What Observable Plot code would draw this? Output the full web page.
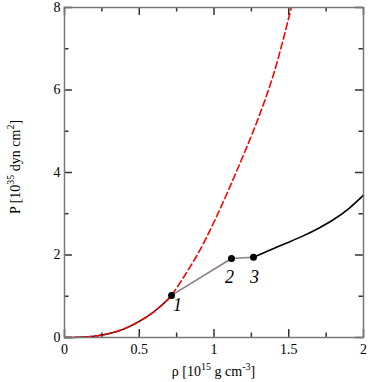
<!DOCTYPE html>
<html>
<head>
<meta charset="utf-8">
<script src="https://cdn.jsdelivr.net/npm/d3@7"></script>
<script src="https://cdn.jsdelivr.net/npm/@observablehq/plot@0.6"></script>
<style>
  html, body { margin: 0; padding: 0; background: #fff; }
  #chart svg { background: #fff; }
  #chart svg text { font-family: 'Liberation Serif', 'Times New Roman', serif; fill: #000; }
</style>
</head>
<body>
<div id="chart"></div>
<script>
// Lower (hadronic) branch, shared by the black and red curves
const rhoLow = [0, 0.1, 0.2, 0.3, 0.4, 0.5, 0.6, 0.7, 0.716];
const pLow   = [0, 0.005, 0.03, 0.095, 0.21, 0.39, 0.63, 0.95, 1.02];
// Red dashed continuation
const rhoRed = [0.716, 0.8, 0.9, 1.0, 1.1, 1.2, 1.3, 1.4, 1.5, 1.55];
const pRed   = [1.02, 1.48, 2.08, 2.8, 3.6, 4.45, 5.35, 6.4, 7.75, 8.5];
// Mixed phase segment (points 1, 2, 3)
const rhoMix = [0.716, 1.117, 1.264];
const pMix   = [1.02, 1.915, 1.945];
const pointLabels = ["1", "2", "3"];
// Black high-density branch
const rhoHigh = [1.264, 1.4, 1.5, 1.6, 1.7, 1.8, 1.9, 2.0];
const pHigh   = [1.945, 2.16, 2.31, 2.47, 2.65, 2.86, 3.12, 3.45];
// Ticks
const xMajor = [0, 0.5, 1, 1.5, 2];
const xMinor = [0.25, 0.75, 1.25, 1.75];
const yMajor = [0, 2, 4, 6, 8];
const yMinor = [1, 3, 5, 7];

const zip = (a, b) => a.map((v, i) => ({x: v, y: b[i]}));
const low = zip(rhoLow, pLow);
const red = zip(rhoLow, pLow).concat(zip(rhoRed, pRed).slice(1));
const mix = zip(rhoMix, pMix).map((d, i) => ({...d, label: pointLabels[i]}));
const high = zip(rhoHigh, pHigh);

const W = 382, H = 382, mL = 64, mR = 19, mT = 7, mB = 45;
const FW = W - mL - mR, FH = H - mT - mB;
const tickStroke = "#333";
const xTicks = (vals, len, side) => Plot.ruleX(vals, {x: d => d, stroke: tickStroke, strokeWidth: 1.5,
  ...(side === "bottom" ? {insetTop: FH - len} : {insetBottom: FH - len})});
const yTicks = (vals, len, side) => Plot.ruleY(vals, {y: d => d, stroke: tickStroke, strokeWidth: 1.5,
  ...(side === "left" ? {insetRight: FW - len} : {insetLeft: FW - len})});

const labelOffsets = [[6, 10], [-2, 19], [1, 20]];

const svg = Plot.plot({
  width: W,
  height: H,
  marginLeft: mL,
  marginRight: mR,
  marginTop: mT,
  marginBottom: mB,
  x: {domain: [0, 2], axis: null},
  y: {domain: [0, 8], axis: null},
  marks: [
    xTicks(xMajor, 8, "bottom"), xTicks(xMinor, 4.5, "bottom"),
    xTicks(xMajor, 8, "top"), xTicks(xMinor, 4.5, "top"),
    yTicks(yMajor, 8, "left"), yTicks(yMinor, 4.5, "left"),
    yTicks(yMajor, 8, "right"), yTicks(yMinor, 4.5, "right"),
    Plot.text(xMajor, {x: d => d, y: () => 0, text: d => String(d), dy: 12, fontSize: 14, fill: "black"}),
    Plot.text(yMajor, {x: () => 0, y: d => d, text: d => String(d), dx: -4, textAnchor: "end", fontSize: 14, fill: "black"}),
    Plot.line(low, {x: "x", y: "y", stroke: "black", strokeWidth: 1.5, curve: "catmull-rom"}),
    Plot.line(red, {x: "x", y: "y", stroke: "#ff0000", strokeWidth: 1.6, strokeDasharray: "6.5,3.5", curve: "catmull-rom", clip: true}),
    Plot.line(mix, {x: "x", y: "y", stroke: "#8c7f7f", strokeWidth: 1.6}),
    Plot.line(high, {x: "x", y: "y", stroke: "black", strokeWidth: 1.6, curve: "catmull-rom"}),
    Plot.dot(mix, {x: "x", y: "y", r: 3.5, fill: "black"}),
    ...mix.map((d, i) => Plot.text([d], {x: "x", y: "y", text: "label", dx: labelOffsets[i][0], dy: labelOffsets[i][1], fontSize: 18, fontStyle: "italic", fill: "black"})),
    Plot.frame({stroke: "#777", strokeWidth: 1.5})
  ]
});

const s = d3.select(svg);
const fam = "'Liberation Serif', 'Times New Roman', serif";
// x label
const xl = s.append("text")
  .attr("x", 213.5).attr("y", 376)
  .attr("text-anchor", "middle")
  .attr("font-family", fam).attr("font-size", 14).attr("fill", "black");
xl.append("tspan").text("ρ [10");
xl.append("tspan").attr("dy", -6).attr("font-size", 10).text("15");
xl.append("tspan").attr("dy", 6).text(" g cm");
xl.append("tspan").attr("dy", -6).attr("font-size", 10).text("-3");
xl.append("tspan").attr("dy", 6).text("]");
// y label
const yl = s.append("text")
  .attr("transform", "translate(19.5,167) rotate(-90)")
  .attr("text-anchor", "middle")
  .attr("font-family", fam).attr("font-size", 14).attr("fill", "black");
yl.append("tspan").text("P [10");
yl.append("tspan").attr("dy", -6).attr("font-size", 10).text("35");
yl.append("tspan").attr("dy", 6).text(" dyn cm");
yl.append("tspan").attr("dy", -6).attr("font-size", 10).text("2");
yl.append("tspan").attr("dy", 6).text("]");

document.getElementById("chart").appendChild(svg);
</script>
</body>
</html>
